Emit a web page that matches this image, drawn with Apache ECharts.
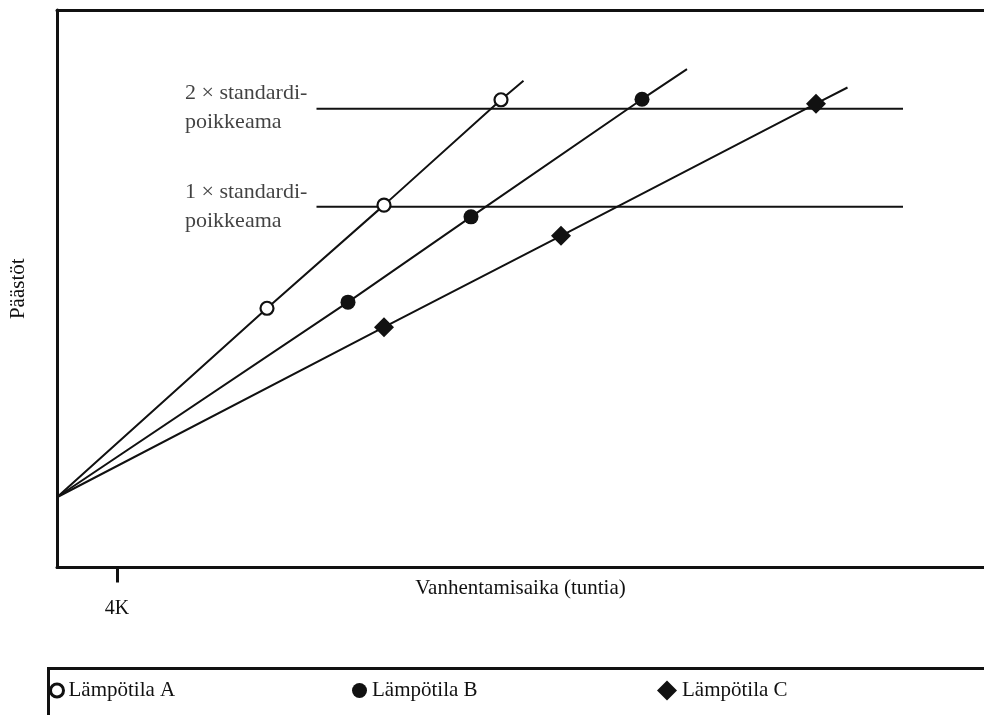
<!DOCTYPE html>
<html>
<head>
<meta charset="utf-8">
<script src="https://cdn.jsdelivr.net/npm/echarts@6/dist/echarts.min.js"></script>
<style>
html,body{margin:0;padding:0;background:#fff;}
#c{width:984px;height:715px;}
</style>
</head>
<body>
<div id="c"></div>
<script>
// ---- data ----
const xTickValues = [4];
const xTickLabels = ['4K'];
const xAxisTitle = 'Vanhentamisaika (tuntia)';
const yAxisTitle = 'Päästöt';
const seriesNames = ['Lämpötila A', 'Lämpötila B', 'Lämpötila C'];
// each line: origin, three measured points, line end
const lineA = [[0, 12.6], [14.0, 46.5], [21.8, 65.0], [29.6, 83.9], [31.1, 87.3]];
const lineB = [[0, 12.6], [19.4, 47.6], [27.6, 62.9], [39.0, 84.0], [42.0, 89.4]];
const lineC = [[0, 12.6], [21.8, 43.1], [33.6, 59.5], [50.6, 83.2], [52.7, 86.1]];
const sdLevels = [64.7, 82.3];
const sdStartX = 17.3;
const sdEndX = 56.4;
const sdLabels = ['1 × standardi-\npoikkeama', '2 × standardi-\npoikkeama'];

const FONT = '"Liberation Serif", "DejaVu Serif", serif';
const INK = '#111';
const TEXT = '#111';

function lineData(arr) {
  return arr.map((p, i) => (i === 0 || i === arr.length - 1)
    ? { value: p, symbol: 'none' }
    : { value: p });
}

const markerStyles = [
  { symbol: 'circle', symbolSize: 13, itemStyle: { color: '#fff', borderColor: INK, borderWidth: 2.2 } },
  { symbol: 'circle', symbolSize: 15, itemStyle: { color: INK, borderColor: INK, borderWidth: 0 } },
  { symbol: 'diamond', symbolSize: 20, itemStyle: { color: INK, borderColor: INK, borderWidth: 0 } }
];
const lines = [lineA, lineB, lineC];

const series = [];
lines.forEach((arr, k) => {
  series.push(Object.assign({
    name: seriesNames[k],
    type: 'line',
    data: lineData(arr),
    showSymbol: true,
    lineStyle: { color: INK, width: 2 },
    z: 3,
    silent: true,
    animation: false
  }, markerStyles[k]));
});
sdLevels.forEach((lv, k) => {
  series.push({
    type: 'line',
    data: [[sdStartX, lv], [sdEndX, lv]],
    symbol: 'none',
    lineStyle: { color: INK, width: 2 },
    z: 2,
    silent: true,
    animation: false
  });
  series.push({
    type: 'scatter',
    data: [[sdStartX, lv]],
    symbolSize: 1,
    itemStyle: { color: 'transparent' },
    silent: true,
    animation: false,
    label: {
      show: true,
      position: [-131, -29],
      align: 'left',
      verticalAlign: 'top',
      formatter: sdLabels[k],
      fontFamily: FONT,
      fontSize: 22,
      lineHeight: 29,
      color: TEXT
    }
  });
});

const legendIcons = [
  { icon: 'circle', itemStyle: { color: '#fff', borderColor: INK, borderWidth: 3 }, w: 13, h: 13, left: 49 },
  { icon: 'circle', itemStyle: { color: INK, borderWidth: 0 }, w: 15, h: 15, left: 352 },
  { icon: 'diamond', itemStyle: { color: INK, borderWidth: 0 }, w: 20, h: 20, left: 657 }
];

const frameLine = { show: true, lineStyle: { color: INK, width: 3 } };

const chart = echarts.init(document.getElementById('c'), null, { renderer: 'canvas' });
chart.setOption({
  animation: false,
  backgroundColor: '#fff',
  grid: { left: 57, top: 10, right: 0, bottom: 147.5, show: false },
  xAxis: [{
    type: 'value', min: 0, max: 61.8,
    axisLine: frameLine,
    splitLine: { show: false },
    axisTick: { show: true, customValues: xTickValues, length: 15, lineStyle: { color: INK, width: 3 } },
    axisLabel: {
      show: true, customValues: xTickValues,
      formatter: v => xTickLabels[xTickValues.indexOf(v)],
      margin: 31, fontFamily: FONT, fontSize: 20, color: TEXT
    },
    name: xAxisTitle, nameLocation: 'middle', nameGap: 10, nameMoveOverlap: false,
    nameTextStyle: { fontFamily: FONT, fontSize: 21, color: TEXT }
  }, {
    type: 'value', min: 0, max: 61.8, position: 'top',
    axisLine: frameLine,
    axisTick: { show: false },
    axisLabel: { show: false },
    splitLine: { show: false }
  }],
  yAxis: {
    type: 'value', min: 0, max: 100,
    axisLine: frameLine,
    axisTick: { show: false },
    axisLabel: { show: false },
    splitLine: { show: false },
    name: yAxisTitle, nameLocation: 'middle', nameGap: 28, nameRotate: 90, nameMoveOverlap: false,
    nameTextStyle: { fontFamily: FONT, fontSize: 21, color: TEXT }
  },
  legend: legendIcons.map((li, k) => ({
    data: [{ name: seriesNames[k], icon: li.icon, itemStyle: li.itemStyle }],
    left: li.left, top: 680, padding: 0,
    itemWidth: li.w, itemHeight: li.h, itemGap: 0,
    selectedMode: false,
    textStyle: { fontFamily: FONT, fontSize: 21, color: TEXT }
  })),
  graphic: [{
    type: 'rect', left: 46, top: 666, silent: true,
    shape: { width: 960, height: 80 },
    style: { fill: 'none', stroke: INK, lineWidth: 3 }
  }],
  series: series
});
</script>
</body>
</html>
